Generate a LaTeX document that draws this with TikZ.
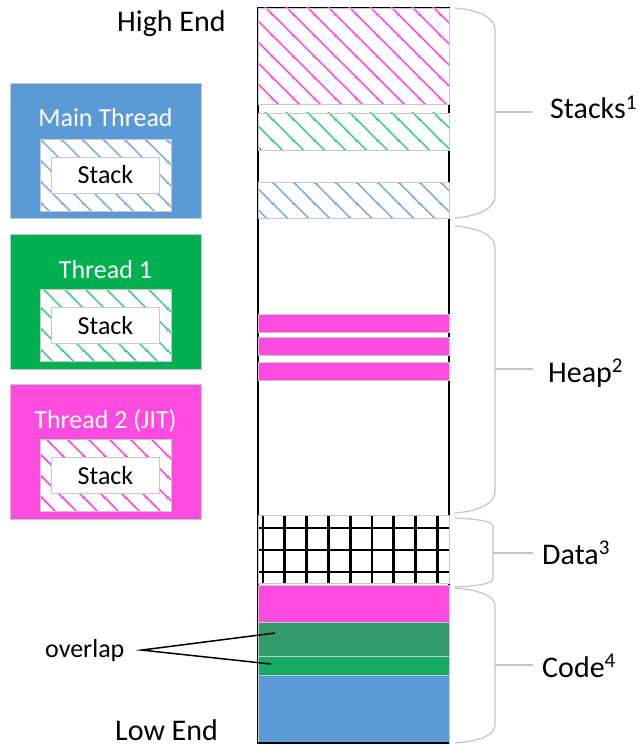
\documentclass[tikz,border=0pt]{standalone}
\usepackage{fontspec}
\setmainfont{Carlito}
\usetikzlibrary{patterns.meta, positioning}

\definecolor{tblue}{HTML}{5B9BD5}
\definecolor{tgreen}{HTML}{00B050}
\definecolor{tpink}{HTML}{FF4BE0}
\definecolor{ovgreen}{HTML}{339A6E}
\definecolor{cgreen}{HTML}{13AB66}
\definecolor{hpink}{HTML}{FF40E0}
\definecolor{hgreen}{HTML}{3CC98A}
\definecolor{hblue}{HTML}{74AADF}
\definecolor{edge}{HTML}{C8C8C8}
\definecolor{bracecol}{HTML}{C4C4C4}

\tikzdeclarepattern{
  name=diaghatch,
  type=uncolored,
  bounding box={(0pt,0pt) and (21pt,21pt)},
  tile size={(21pt,21pt)},
  code={
    \draw[line width=1.5pt] (0pt,21pt) -- (21pt,0pt);
    \draw[line width=1.5pt] (-2pt,2pt) -- (2pt,-2pt);
    \draw[line width=1.5pt] (19pt,23pt) -- (23pt,19pt);
  }
}

\begin{document}
\begin{tikzpicture}[
        x=1pt, y=-1pt,
        seg/.style={rectangle, draw=edge, line width=0.8pt, minimum width=191pt, inner sep=0pt, outer sep=0pt},
        hatched/.style={seg, preaction={fill=white}, pattern=diaghatch, pattern color=#1},
        thread/.style={rectangle, draw=edge, line width=0.8pt, minimum width=191pt, minimum height=135pt, inner sep=0pt},
        tlabel/.style={font=\fontsize{26}{30}\selectfont, text=white, anchor=base, inner sep=0pt},
        innerhatch/.style={rectangle, draw=edge, line width=0.8pt, minimum width=131pt, minimum height=72pt, preaction={fill=white}, pattern=diaghatch, pattern color=#1},
        stackbox/.style={rectangle, draw=edge, line width=0.8pt, fill=white, minimum width=108pt, minimum height=36pt, inner sep=0pt, font=\fontsize{26}{30}\selectfont},
        endlabel/.style={font=\fontsize{30}{36}\selectfont, anchor=base west, inner sep=0pt},
        brace/.style={draw=bracecol, line width=1.2pt}
    ]
        \useasboundingbox (0,0) rectangle (643,749);

        % threads
        \node[thread, fill=tblue] (mainbox) at (105.5,150.5) {};
        \node[innerhatch=hblue] (mainhatch) at (105.5,175) {};
        \node[stackbox] (mainstack) at (105.5,175) {Stack};
        \node[tlabel] (mainlabel) at (105.5,127) {Main Thread};

        \node[thread, fill=tgreen] (t1box) at (105.5,301.5) {};
        \node[innerhatch=hgreen] (t1hatch) at (105.5,325.5) {};
        \node[stackbox] (t1stack) at (105.5,325.5) {Stack};
        \node[tlabel] (t1label) at (105.5,278) {Thread 1};

        \node[thread, fill=tpink] (t2box) at (105.5,451.5) {};
        \node[innerhatch=hpink] (t2hatch) at (105.5,475.5) {};
        \node[stackbox] (t2stack) at (105.5,475.5) {Stack};
        \node[tlabel] (t2label) at (105.5,428) {Thread 2 (JIT)};

        % memory column
        \draw[black, line width=1.2pt] (258,8) rectangle (449,743);
        \node[hatched=hpink, minimum height=96pt] (stk0) at (353.5,56) {};
        \node[hatched=hgreen, minimum height=37pt] (stk1) at (353.5,131.5) {};
        \node[hatched=hblue, minimum height=36pt] (stk2) at (353.5,200) {};

        \node[seg, fill=tpink, minimum height=18pt] (heap0) at (353.5,323) {};
        \node[seg, fill=tpink, minimum height=18pt] (heap1) at (353.5,346) {};
        \node[seg, fill=tpink, minimum height=18pt] (heap2) at (353.5,371) {};

        \node[seg, fill=white, minimum height=68pt] (data) at (353.5,549) {};
        \begin{scope}
            \clip (258,515) rectangle (449,583);
            \foreach \gx in {0,...,8}
                \draw[line width=2.8pt] (263+21.8*\gx,515) -- (263+21.8*\gx,583);
            \foreach \gy in {528,550,572}
                \draw[line width=2.8pt] (258,\gy) -- (449,\gy);
        \end{scope}
        \node[seg, minimum height=68pt] (dataedge) at (353.5,549) {};

        \node[seg, fill=tpink, minimum height=37pt] (codepink) at (353.5,603.5) {};
        \node[seg, fill=ovgreen, minimum height=34pt] (codeover) at (353.5,639) {};
        \node[seg, fill=cgreen, minimum height=19pt] (codegreen) at (353.5,665.5) {};
        \node[seg, fill=tblue, minimum height=68pt] (codeblue) at (353.5,709) {};
        \draw[black, line width=1.2pt] (258,743) -- (449,743);

        % braces
        \draw[brace] (455,8) .. controls (480,10) and (495,18) .. (495,30) -- (495,196) .. controls (495,208) and (480,216) .. (455,218);
        \draw[brace] (455,226) .. controls (480,228) and (495,236) .. (495,248) -- (495,491) .. controls (495,503) and (480,511) .. (455,513);
        \draw[brace] (455,518) .. controls (475,519) and (493,521) .. (493,526) -- (493,579) .. controls (493,584) and (475,586) .. (455,587);
        \draw[brace] (455,588) .. controls (480,590) and (495,596) .. (495,606) -- (495,725) .. controls (495,735) and (480,741) .. (455,743);
        \coordinate (stackmid) at (495,112);
        \coordinate (heapmid) at (495,369);
        \coordinate (datamid) at (493,553);
        \coordinate (codemid) at (495,665);
        \draw[brace] (stackmid) -- ++(38,0);
        \draw[brace] (heapmid) -- ++(38,0);
        \draw[brace] (datamid) -- ++(40,0);
        \draw[brace] (codemid) -- ++(38,0);

        % labels
        \node[endlabel] (stacks) at (550,119) {Stacks\textsuperscript{1}};
        \node[endlabel] (heap) at (548,382) {Heap\textsuperscript{2}};
        \node[endlabel] (datalabel) at (542,564) {Data\textsuperscript{3}};
        \node[endlabel] (code) at (542,677) {Code\textsuperscript{4}};
        \node[endlabel] (high) at (117,32) {High End};
        \node[endlabel] (low) at (115,740) {Low End};

        % overlap pointer
        \node[font=\fontsize{26}{30}\selectfont, anchor=base west, inner sep=0pt] (overlap) at (45,657) {overlap};
        \coordinate (ovtop) at (275,633);
        \coordinate (ovbot) at (271,664);
        \draw[line width=1.5pt] (ovtop) -- ([xshift=17pt]overlap.east) -- (ovbot);
    \end{tikzpicture}
\end{document}
